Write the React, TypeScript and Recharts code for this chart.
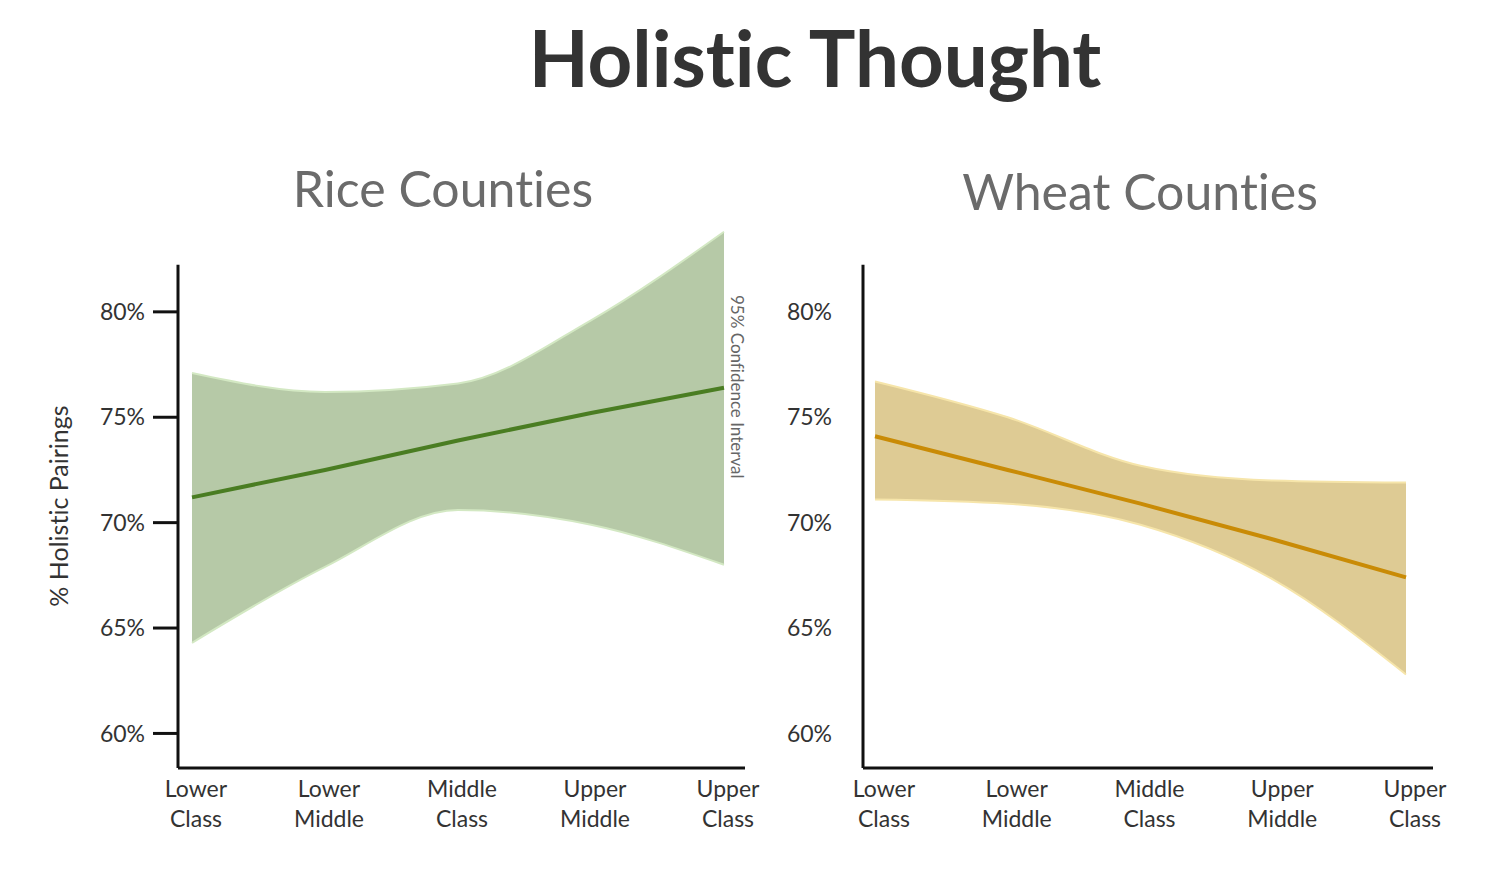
import { Area, ComposedChart, Line, ReferenceLine, XAxis, YAxis } from 'recharts'

const classes = ['Lower Class', 'Lower Middle', 'Middle Class', 'Upper Middle', 'Upper Class']

const riceFit = [71.2, 72.5, 73.9, 75.2, 76.4]
const riceLow = [64.3, 67.9, 70.6, 69.9, 68.0]
const riceHigh = [77.1, 76.2, 76.6, 79.6, 83.8]

const wheatFit = [74.1, 72.5, 70.9, 69.2, 67.4]
const wheatLow = [71.1, 70.9, 69.9, 67.3, 62.8]
const wheatHigh = [76.7, 75.0, 72.7, 72.0, 71.9]

const yTicks = [60, 65, 70, 75, 80]

const FONT = 'Lato, "Open Sans", sans-serif'
const Y_DOMAIN: [number, number] = [58.36, 84.5]
const AXIS_TOP = 82.23

const buildRows = (fit: number[], low: number[], high: number[]) =>
  classes.map((name, i) => ({ name, fit: fit[i], band: [low[i], high[i]] }))

const ClassTick = ({ x, y, payload, shift = 0 }: any) => {
  const [first, second] = String(payload.value).split(' ')
  const cx = x + shift
  return (
    <text x={cx} y={y} textAnchor="middle" fill="#333" fontSize={23} fontFamily={FONT}>
      <tspan x={cx} dy={29}>{first}</tspan>
      <tspan x={cx} dy={30}>{second}</tspan>
    </text>
  )
}

type PanelProps = {
  left: number
  rows: ReturnType<typeof buildRows>
  bandFill: string
  bandStroke: string
  lineColor: string
  marginRight: number
  padLeft: number
  padRight: number
  labelShift: number
  tickMarks: boolean
}

const Panel = ({
  left,
  rows,
  bandFill,
  bandStroke,
  lineColor,
  marginRight,
  padLeft,
  padRight,
  labelShift,
  tickMarks,
}: PanelProps) => (
  <div style={{ position: 'absolute', left, top: 0 }}>
    <ComposedChart
      width={800}
      height={880}
      data={rows}
      margin={{ top: 217, right: marginRight, bottom: 42, left: 78 }}
    >
      <XAxis
        xAxisId="cat"
        dataKey="name"
        type="category"
        padding={{ left: padLeft, right: padRight }}
        axisLine={{ stroke: '#111', strokeWidth: 3 }}
        tickLine={false}
        tickSize={0}
        tickMargin={0}
        height={70}
        interval={0}
        tick={<ClassTick shift={labelShift} />}
      />
      <XAxis xAxisId="frame" type="number" domain={[0, 1]} hide />
      <YAxis
        type="number"
        domain={Y_DOMAIN}
        ticks={yTicks}
        width={100}
        axisLine={false}
        tickLine={tickMarks ? { stroke: '#111', strokeWidth: 3 } : false}
        tickSize={25}
        tickMargin={tickMarks ? 8 : 6}
        tick={{ fill: '#333', fontSize: 23, fontFamily: FONT }}
        tickFormatter={(v: number) => `${v}%`}
      />
      <Area
        xAxisId="cat"
        type="monotone"
        dataKey="band"
        stroke={bandStroke}
        strokeWidth={2}
        fill={bandFill}
        fillOpacity={1}
        isAnimationActive={false}
      />
      <Line
        xAxisId="cat"
        type="linear"
        dataKey="fit"
        stroke={lineColor}
        strokeWidth={4}
        dot={false}
        isAnimationActive={false}
      />
      <ReferenceLine
        xAxisId="frame"
        segment={[
          { x: 0, y: Y_DOMAIN[0] },
          { x: 0, y: AXIS_TOP },
        ]}
        stroke="#111"
        strokeWidth={3}
      />
    </ComposedChart>
  </div>
)

export default function App() {
  const riceRows = buildRows(riceFit, riceLow, riceHigh)
  const wheatRows = buildRows(wheatFit, wheatLow, wheatHigh)

  return (
    <div
      style={{
        position: 'absolute',
        left: 0,
        top: 0,
        width: 1508,
        height: 880,
        background: '#fff',
        overflow: 'hidden',
        fontVariantLigatures: 'none',
        fontFeatureSettings: '"liga" 0, "clig" 0',
      }}
    >
      <Panel
        left={0}
        rows={riceRows}
        bandFill="#b6c9a7"
        bandStroke="#d3e8c3"
        lineColor="#4a7d22"
        marginRight={55}
        padLeft={14}
        padRight={21}
        labelShift={4}
        tickMarks
      />
      <Panel
        left={685}
        rows={wheatRows}
        bandFill="#decb94"
        bandStroke="#f6e5aa"
        lineColor="#c98b06"
        marginRight={52}
        padLeft={12}
        padRight={27}
        labelShift={9}
        tickMarks={false}
      />
      <svg width={1508} height={880} style={{ position: 'absolute', left: 0, top: 0, pointerEvents: 'none' }}>
        <text x={815} y={87} textAnchor="middle" fontFamily={FONT} fontWeight={700} fontSize={78} fill="#333">
          Holistic Thought
        </text>
        <text x={443} y={207} textAnchor="middle" fontFamily={FONT} fontSize={50} fill="#6b6b6b">
          Rice Counties
        </text>
        <text x={1140} y={210} textAnchor="middle" fontFamily={FONT} fontSize={50} fill="#6b6b6b">
          Wheat Counties
        </text>
        <text transform="translate(68,506) rotate(-90)" textAnchor="middle" fontFamily={FONT} fontSize={25} fill="#333">
          % Holistic Pairings
        </text>
        <text transform="translate(731,295) rotate(90)" fontFamily={FONT} fontSize={17} fill="#666">
          95% Confidence Interval
        </text>
      </svg>
    </div>
  )
}
